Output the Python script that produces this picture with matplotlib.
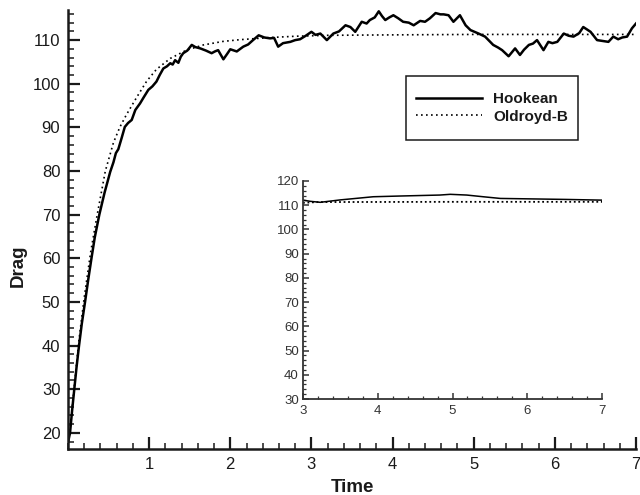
import numpy as np
import matplotlib
matplotlib.use("Agg")
import matplotlib.pyplot as plt
from matplotlib.patches import Rectangle
from matplotlib.ticker import MultipleLocator

plt.rcParams['font.family'] = ['Liberation Sans', 'DejaVu Sans']

# Hookean drag
t_hook = [0.00, 0.025, 0.05, 0.078, 0.105, 0.136, 0.17, 0.21, 0.25, 0.29,
          0.33, 0.386, 0.45, 0.52, 0.56, 0.59, 0.62, 0.66, 0.70, 0.74,
          0.785, 0.83, 0.888, 0.93, 0.99, 1.04, 1.09, 1.13, 1.175, 1.22,
          1.26, 1.29, 1.32, 1.36, 1.39, 1.42, 1.47, 1.525, 1.57, 1.63,
          1.70, 1.77, 1.81, 1.85, 1.915, 1.96, 2.00, 2.08, 2.16, 2.22,
          2.28, 2.35, 2.42, 2.49, 2.54, 2.59, 2.65, 2.74, 2.80, 2.86,
          2.93, 3.00, 3.05, 3.11, 3.19, 3.27, 3.34, 3.42, 3.48, 3.54,
          3.62, 3.68, 3.72, 3.78, 3.83, 3.87, 3.91, 3.96, 4.01, 4.07,
          4.13, 4.20, 4.26, 4.34, 4.40, 4.46, 4.53, 4.59, 4.63, 4.69,
          4.75, 4.83, 4.90, 4.96, 5.06, 5.14, 5.24, 5.30, 5.35, 5.43,
          5.51, 5.57, 5.62, 5.68, 5.73, 5.78, 5.86, 5.92, 5.97, 6.03,
          6.11, 6.17, 6.23, 6.30, 6.35, 6.44, 6.52, 6.59, 6.66, 6.72,
          6.78, 6.83, 6.89, 6.95, 7.00]
drag_hook = [17.8, 20.0, 25.0, 30.1, 35.0, 40.0, 45.0, 50.0, 55.2, 60.1,
             64.8, 70.0, 75.0, 79.8, 82.0, 84.1, 85.0, 87.5, 90.1, 91.0,
             91.7, 94.0, 95.5, 96.8, 98.6, 99.4, 100.5, 102.0, 103.5, 104.0,
             104.7, 104.4, 105.4, 104.8, 106.2, 107.0, 107.6, 108.9, 108.4, 108.1,
             107.6, 107.0, 107.4, 107.7, 105.6, 106.8, 107.9, 107.4, 108.5, 109.0,
             110.0, 111.1, 110.6, 110.4, 110.5, 108.5, 109.3, 109.6, 110.0, 110.2,
             111.0, 111.9, 111.2, 111.5, 110.0, 111.5, 112.0, 113.4, 113.0, 111.9,
             114.2, 113.8, 114.6, 115.2, 116.6, 115.5, 114.6, 115.2, 115.7, 115.0,
             114.2, 114.0, 113.4, 114.4, 114.2, 115.0, 116.2, 115.9, 115.9, 115.7,
             114.2, 115.7, 113.4, 112.3, 111.5, 110.8, 108.9, 108.3, 107.7, 106.3,
             108.1, 106.6, 107.8, 108.9, 109.2, 110.0, 107.7, 109.6, 109.3, 109.6,
             111.5, 111.0, 110.8, 111.6, 113.0, 111.9, 110.0, 109.8, 109.6, 110.8,
             110.2, 110.6, 110.8, 112.7, 113.8]

# Oldroyd-B drag
t_old = [0.0, 0.03, 0.08, 0.13, 0.20, 0.28, 0.36, 0.46, 0.56, 0.64, 0.72,
         0.85, 0.97, 1.09, 1.26, 1.46, 1.67, 1.91, 2.12, 2.5, 2.82, 3.2,
         4.0, 5.0, 7.0]
drag_old = [17.0, 22.0, 31.0, 40.5, 51.0, 61.5, 70.0, 80.0, 86.5, 90.1, 92.9,
            97.0, 100.6, 103.3, 105.8, 107.7, 108.9, 109.7, 110.1, 110.6, 110.9,
            111.1, 111.2, 111.3, 111.3]

# inset (3 < t < 7)
t_in_hook = [3.0, 3.1, 3.23, 3.5, 3.94, 4.3, 4.83, 4.97, 5.19, 5.41, 5.64,
             6.08, 6.5, 7.0]
drag_in_hook = [112.1, 111.6, 111.2, 112.2, 113.5, 113.8, 114.2, 114.5, 114.2,
                113.5, 112.8, 112.6, 112.4, 112.1]
t_in_old = [3.0, 3.2, 5.0, 7.0]
drag_in_old = [111.0, 111.3, 111.4, 111.4]

ink = '#1a1a1a'

fig = plt.figure(figsize=(6.4, 4.95), dpi=100)
ax = fig.add_axes([68 / 640, 1 - 449 / 495, 568 / 640, 439 / 495])

ax.plot(t_hook, drag_hook, color='black', lw=1.8, label='Hookean')
ax.plot(t_old, drag_old, color='black', lw=1.2, linestyle=(0, (1, 2)),
        label='Oldroyd-B')

ax.set_xlim(0, 7)
ax.set_ylim(16.3, 116.9)
ax.set_xticks([1, 2, 3, 4, 5, 6, 7])
ax.set_yticks([20, 30, 40, 50, 60, 70, 80, 90, 100, 110])
ax.xaxis.set_minor_locator(MultipleLocator(0.2))
ax.yaxis.set_minor_locator(MultipleLocator(2))
for s in ['top', 'right']:
    ax.spines[s].set_visible(False)
for s in ['left', 'bottom']:
    ax.spines[s].set_linewidth(1.8)
    ax.spines[s].set_color(ink)
ax.tick_params(which='major', direction='in', length=8.5, width=1.6,
               labelsize=12, colors=ink, pad=5.5)
ax.tick_params(which='minor', direction='in', length=4.5, width=1.1, colors=ink)
ax.set_xlabel('Time', fontsize=13.5, fontweight='bold', color=ink, labelpad=5)
ax.set_ylabel('Drag', fontsize=13.5, fontweight='bold', color=ink)
ax.yaxis.set_label_coords(-0.072, 0.417)

# legend box
ax.add_patch(Rectangle(((406 - 68) / 568, (449 - 140) / 439), 172 / 568, 64 / 439,
                       transform=ax.transAxes, fill=False, lw=1.1,
                       edgecolor=ink, zorder=5))
leg = ax.legend(loc='center', bbox_to_anchor=((492 - 68) / 568, (449 - 108) / 439),
                frameon=False, handlelength=4.3, handletextpad=0.75,
                labelspacing=0.2, borderpad=0,
                prop={'weight': 'bold', 'size': 11})
for txt in leg.get_texts():
    txt.set_color(ink)

# inset
axin = fig.add_axes([303 / 640, 1 - 399 / 495, 299 / 640, 218 / 495])
axin.plot(t_in_hook, drag_in_hook, color='black', lw=1.1)
axin.plot(t_in_old, drag_in_old, color='black', lw=1.3, linestyle=(0, (1, 1.5)))
axin.set_xlim(3, 7)
axin.set_ylim(30, 120)
axin.set_xticks([3, 4, 5, 6, 7])
axin.set_yticks(np.arange(30, 121, 10))
axin.xaxis.set_minor_locator(MultipleLocator(0.2))
axin.yaxis.set_minor_locator(MultipleLocator(2))
for s in ['top', 'right']:
    axin.spines[s].set_visible(False)
for s in ['left', 'bottom']:
    axin.spines[s].set_linewidth(1.3)
    axin.spines[s].set_color('#333333')
axin.tick_params(which='major', direction='in', length=4.5, width=1.1,
                 labelsize=9.5, colors='#333333', pad=3)
axin.tick_params(axis='x', which='major', pad=4)
axin.tick_params(which='minor', direction='in', length=2.5, width=0.9,
                 colors='#333333')
axin.patch.set_alpha(0)

fig.savefig('out.png', dpi=100)
